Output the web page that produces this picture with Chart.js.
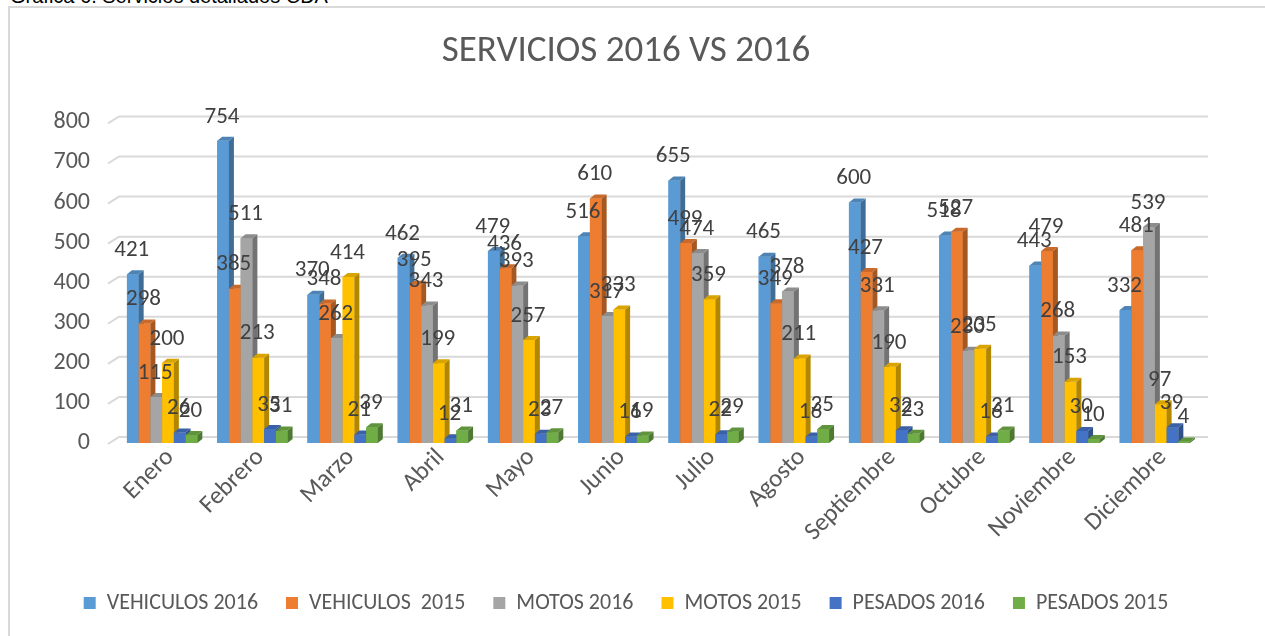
<!DOCTYPE html>
<html>
<head>
<meta charset="utf-8">
<script src="https://cdn.jsdelivr.net/npm/chart.js@4.4.0/dist/chart.umd.min.js"></script>
<style>
  body { margin: 0; background: #fff; overflow: hidden; }
  #caption { position: absolute; left: 10px; top: -15px; font: 20px "Liberation Sans", Arial, sans-serif; color: #000; }
  #box { position: absolute; left: 8px; top: 6px; width: 1300px; height: 700px; background: #fff;
         border-left: 2px solid #d9d9d9; border-top: 2px solid #d9d9d9; }
  #wrap { position: absolute; left: 0; top: 0; width: 1255px; height: 628px; }
</style>
</head>
<body>
<div id="caption">Gráfica 6. Servicios detallados CDA</div>
<div id="box"><div id="wrap"><canvas id="chart"></canvas></div></div>
<script>
const categories = ['Enero', 'Febrero', 'Marzo', 'Abril', 'Mayo', 'Junio', 'Julio', 'Agosto', 'Septiembre', 'Octubre', 'Noviembre', 'Diciembre'];
const vehiculos2016 = [421, 754, 370, 462, 479, 516, 655, 465, 600, 518, 443, 332];
const vehiculos2015 = [298, 385, 348, 395, 436, 610, 499, 349, 427, 527, 479, 481];
const motos2016 = [115, 511, 262, 343, 393, 317, 474, 378, 331, 230, 268, 539];
const motos2015 = [200, 213, 414, 199, 257, 333, 359, 211, 190, 235, 153, 97];
const pesados2016 = [26, 35, 21, 12, 23, 16, 22, 16, 32, 16, 30, 39];
const pesados2015 = [20, 31, 39, 31, 27, 19, 29, 35, 23, 31, 10, 4];
const yTicks = [0, 100, 200, 300, 400, 500, 600, 700, 800];

const FONT = 'Carlito, Lato, sans-serif';

function shade(hex, f) {
    const n = parseInt(hex.slice(1), 16);
    const r = Math.round(((n >> 16) & 255) * f);
    const g = Math.round(((n >> 8) & 255) * f);
    const b = Math.round((n & 255) * f);
    return `rgb(${r},${g},${b})`;
}

// back-wall gridlines with the little perspective slant at the left
const wallGrid = {
    id: 'wallGrid',
    beforeDatasetsDraw(chart) {
        const { ctx, chartArea } = chart;
        const y = chart.scales.y;
        ctx.save();
        ctx.strokeStyle = '#d9d9d9';
        ctx.lineWidth = 2;
        yTicks.forEach(v => {
            const py = y.getPixelForValue(v);
            ctx.beginPath();
            ctx.moveTo(chartArea.left - 9, py + 1);
            ctx.lineTo(chartArea.left + 2, py - 6);
            ctx.lineTo(chartArea.right + 8, py - 6);
            ctx.stroke();
        });
        ctx.restore();
    }
};

// redraw bars with side and top faces, in front-to-back order per category
const bars3d = {
    id: 'bars3d',
    afterDatasetsDraw(chart) {
        const ctx = chart.ctx;
        const dx = 5, dy = 4;
        ctx.save();
        chart.data.labels.forEach((_, i) => {
            chart.data.datasets.forEach((ds, d) => {
                const bar = chart.getDatasetMeta(d).data[i];
                const { x, y, base, width } = bar.getProps(['x', 'y', 'base', 'width'], true);
                const l = x - width / 2, r = x + width / 2;
                ctx.fillStyle = ds.backgroundColor;
                ctx.fillRect(l, y, width, base - y);
                ctx.fillStyle = shade(ds.backgroundColor, 0.7);
                ctx.beginPath();
                ctx.moveTo(r, y); ctx.lineTo(r + dx, y - dy); ctx.lineTo(r + dx, base - dy); ctx.lineTo(r, base);
                ctx.closePath(); ctx.fill();
                ctx.fillStyle = shade(ds.backgroundColor, 0.85);
                ctx.beginPath();
                ctx.moveTo(l, y); ctx.lineTo(l + dx, y - dy); ctx.lineTo(r + dx, y - dy); ctx.lineTo(r, y);
                ctx.closePath(); ctx.fill();
            });
        });
        // value labels on top of everything
        ctx.fillStyle = '#404040';
        ctx.font = '23px ' + FONT;
        ctx.textAlign = 'center';
        ctx.textBaseline = 'middle';
        chart.data.datasets.forEach((ds, d) => {
            chart.getDatasetMeta(d).data.forEach((bar, i) => {
                ctx.fillText(ds.data[i], bar.x - 1, bar.y - 24);
            });
        });
        ctx.restore();
    }
};

const series = [
    ['VEHICULOS 2016', vehiculos2016, '#5b9bd5'],
    ['VEHICULOS  2015', vehiculos2015, '#ed7d31'],
    ['MOTOS 2016', motos2016, '#a5a5a5'],
    ['MOTOS 2015', motos2015, '#ffc000'],
    ['PESADOS 2016', pesados2016, '#4472c4'],
    ['PESADOS 2015', pesados2015, '#70ad47']
];

new Chart(document.getElementById('chart'), {
    type: 'bar',
    data: {
        labels: categories,
        datasets: series.map(([label, data, color]) => ({
            label: label,
            data: data,
            backgroundColor: color,
            borderWidth: 0,
            categoryPercentage: 0.78,
            barPercentage: 1.0
        }))
    },
    options: {
        responsive: true,
        maintainAspectRatio: false,
        animation: false,
        layout: { padding: { left: 42, right: 65, top: 0, bottom: 12 } },
        plugins: {
            title: {
                display: true,
                text: 'SERVICIOS 2016 VS 2016',
                color: '#595959',
                font: { family: FONT, size: 37, weight: 'normal' },
                padding: { top: 22, bottom: 48 }
            },
            legend: {
                position: 'bottom',
                labels: {
                    color: '#595959',
                    font: { family: FONT, size: 22 },
                    boxWidth: 12,
                    boxHeight: 12,
                    padding: 28
                }
            },
            tooltip: { enabled: false }
        },
        scales: {
            x: {
                grid: { display: false, drawTicks: false },
                border: { display: false },
                ticks: {
                    color: '#595959',
                    font: { family: FONT, size: 25 },
                    maxRotation: 45,
                    minRotation: 45,
                    padding: 0,
                    labelOffset: 8
                },
                afterFit(scale) { scale.height = 121; }
            },
            y: {
                min: 0,
                max: 800,
                grid: { display: false, drawTicks: false },
                border: { display: false },
                ticks: {
                    stepSize: 100,
                    color: '#595959',
                    font: { family: FONT, size: 24 },
                    padding: 27
                },
                afterFit(scale) { scale.width = 65; }
            }
        }
    },
    plugins: [wallGrid, bars3d]
});
</script>
</body>
</html>
